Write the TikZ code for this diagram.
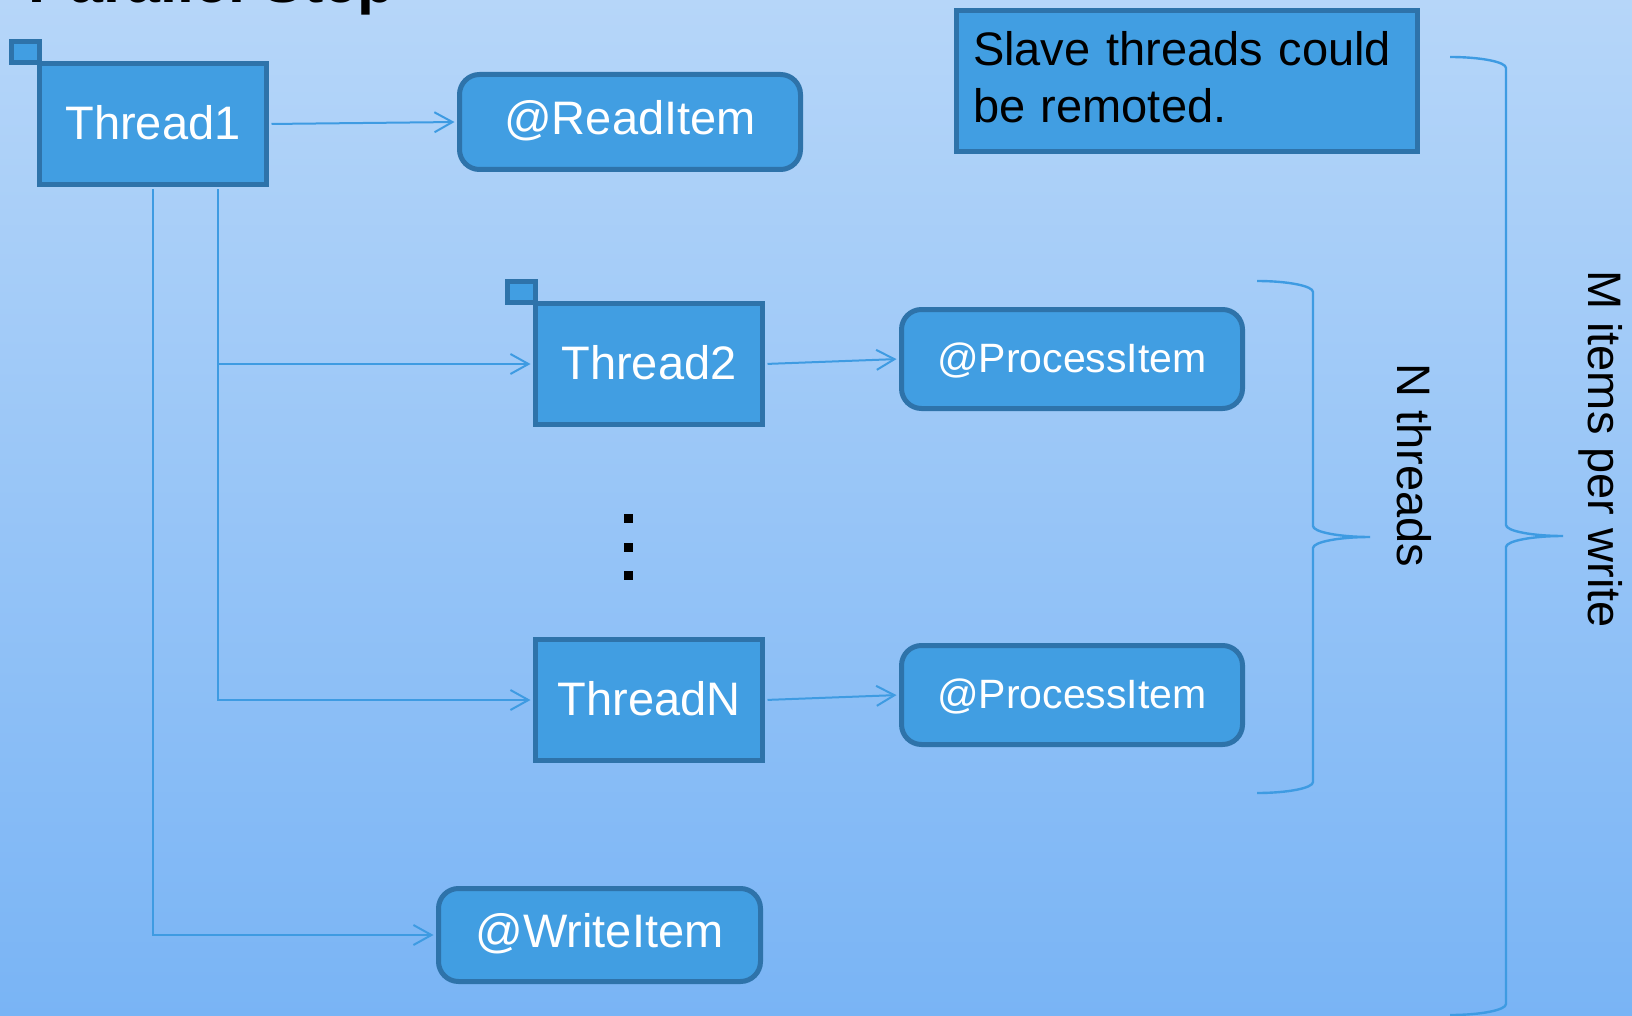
\documentclass[tikz,border=0pt]{standalone}
\usepackage{fontspec}
\setmainfont{Liberation Sans}
\usetikzlibrary{arrows.meta}

\definecolor{bgtop}{HTML}{B6D6F9}
\definecolor{bgbot}{HTML}{79B4F5}
\definecolor{boxfill}{HTML}{419EE2}
\definecolor{boxline}{HTML}{2E73AA}
\definecolor{wire}{HTML}{3E9BE2}

\newcommand{\bigtext}{\fontsize{23.5pt}{28.5pt}\selectfont}
\newcommand{\midtext}{\fontsize{20.5pt}{24pt}\selectfont}

\begin{document}
\begin{tikzpicture}[x=0.5pt,y=-0.5pt,
  threadbox/.style={draw=boxline, fill=boxfill, line width=2.5pt,
    minimum width=113.5pt, minimum height=60.5pt, inner sep=0pt,
    text height=15.5pt, text depth=0pt, text=white, font=\bigtext},
  flagbox/.style={draw=boxline, fill=boxfill, line width=2.25pt,
    minimum width=14pt, minimum height=10.5pt, inner sep=0pt},
  itembox/.style={draw=boxline, fill=boxfill, line width=2.5pt,
    rounded corners=10pt, minimum width=170.5pt, inner sep=0pt,
    text height=12.8pt, text depth=0pt, text=white, font=\bigtext},
  smallitem/.style={itembox, font=\midtext, text height=13pt},
  notebox/.style={draw=boxline, fill=boxfill, line width=2.5pt,
    minimum width=230.5pt, minimum height=70.5pt, text width=214pt,
    inner xsep=8.25pt, align=left, text height=0pt, text depth=15pt,
    text=black, font=\bigtext},
  conn/.style={draw=wire, line width=1pt, shorten <=1.25pt, shorten >=1.25pt,
    -{Straight Barb[length=9pt,width=10pt]}},
  brace/.style={draw=wire, line width=1.2pt},
  sidelabel/.style={rotate=-90, anchor=base, inner sep=0pt, text=black, font=\bigtext}
]

% page frame and background gradient
\useasboundingbox (0,0) rectangle (1632,1016);
\clip (0,0) rectangle (1632,1016);
\shade[top color=bgtop, bottom color=bgbot] (0,0) rectangle (1632,1016);

% slide title, running off the top edge
\node[anchor=base west, inner sep=0pt,
      font=\bfseries\fontsize{30.5pt}{36pt}\selectfont] (title) at (28,3) {Parallel Step};

% small corner flags behind the thread boxes
\node[flagbox] (F1) at (25.5,52) {};
\node[flagbox] (F2) at (521.5,292) {};

% threads
\node[threadbox] (T1) at (153,124) {Thread1};
\node[threadbox] (T2) at (649,364) {Thread2};
\node[threadbox] (TN) at (649,700) {ThreadN};

% item steps
\node[itembox, minimum height=47.5pt] (RI) at (630,122) {@ReadItem};
\node[smallitem, minimum height=49.5pt] (PI1) at (1072,359) {@ProcessItem};
\node[smallitem, minimum height=49.5pt] (PI2) at (1072,695) {@ProcessItem};
\node[itembox, minimum width=161pt, minimum height=46.5pt] (WI) at (599.5,935) {@WriteItem};

% note (first baseline sits 7.5pt above the box centre)
\node[notebox] (NOTE) at (1187,81)
  {\begin{tabular}[t]{@{}l@{}}Slave threads could\\be remoted.\end{tabular}};

% connectors
\draw[conn] (T1.east) -- (RI.west);
\draw[conn] ([xshift=32.5pt]T1.south) |- (T2.west);
\draw[conn] ([xshift=32.5pt]T1.south) |- (TN.west);
\draw[conn] (T1.south) |- (WI.west);
\draw[conn] (T2.east) -- (PI1.west);
\draw[conn] (TN.east) -- (PI2.west);

% vertical ellipsis between the threads
\fill[black] (623.5,513.5) rectangle ++(9,9);
\fill[black] (623.5,542.5) rectangle ++(9,9);
\fill[black] (623.5,570.5) rectangle ++(9,9);

% brace over the worker threads
\draw[brace] (1257,281) .. controls (1288,281) and (1313,286) .. (1313,292)
  -- (1313,526) .. controls (1313,532) and (1339,537) .. (1370,537)
  .. controls (1339,537) and (1313,542) .. (1313,548)
  -- (1313,782) .. controls (1313,788) and (1288,793) .. (1257,793);
\node[sidelabel] (NL) at (1397,465.5) {N threads};

% brace over the whole chunk
\draw[brace] (1450,57) .. controls (1481,57) and (1506,62) .. (1506,68)
  -- (1506,525) .. controls (1506,531) and (1532,536) .. (1563,536)
  .. controls (1532,536) and (1506,541) .. (1506,547)
  -- (1506,1004) .. controls (1506,1010) and (1481,1015) .. (1450,1015);
\node[sidelabel] (ML) at (1588,449) {M items per write};

\end{tikzpicture}
\end{document}
